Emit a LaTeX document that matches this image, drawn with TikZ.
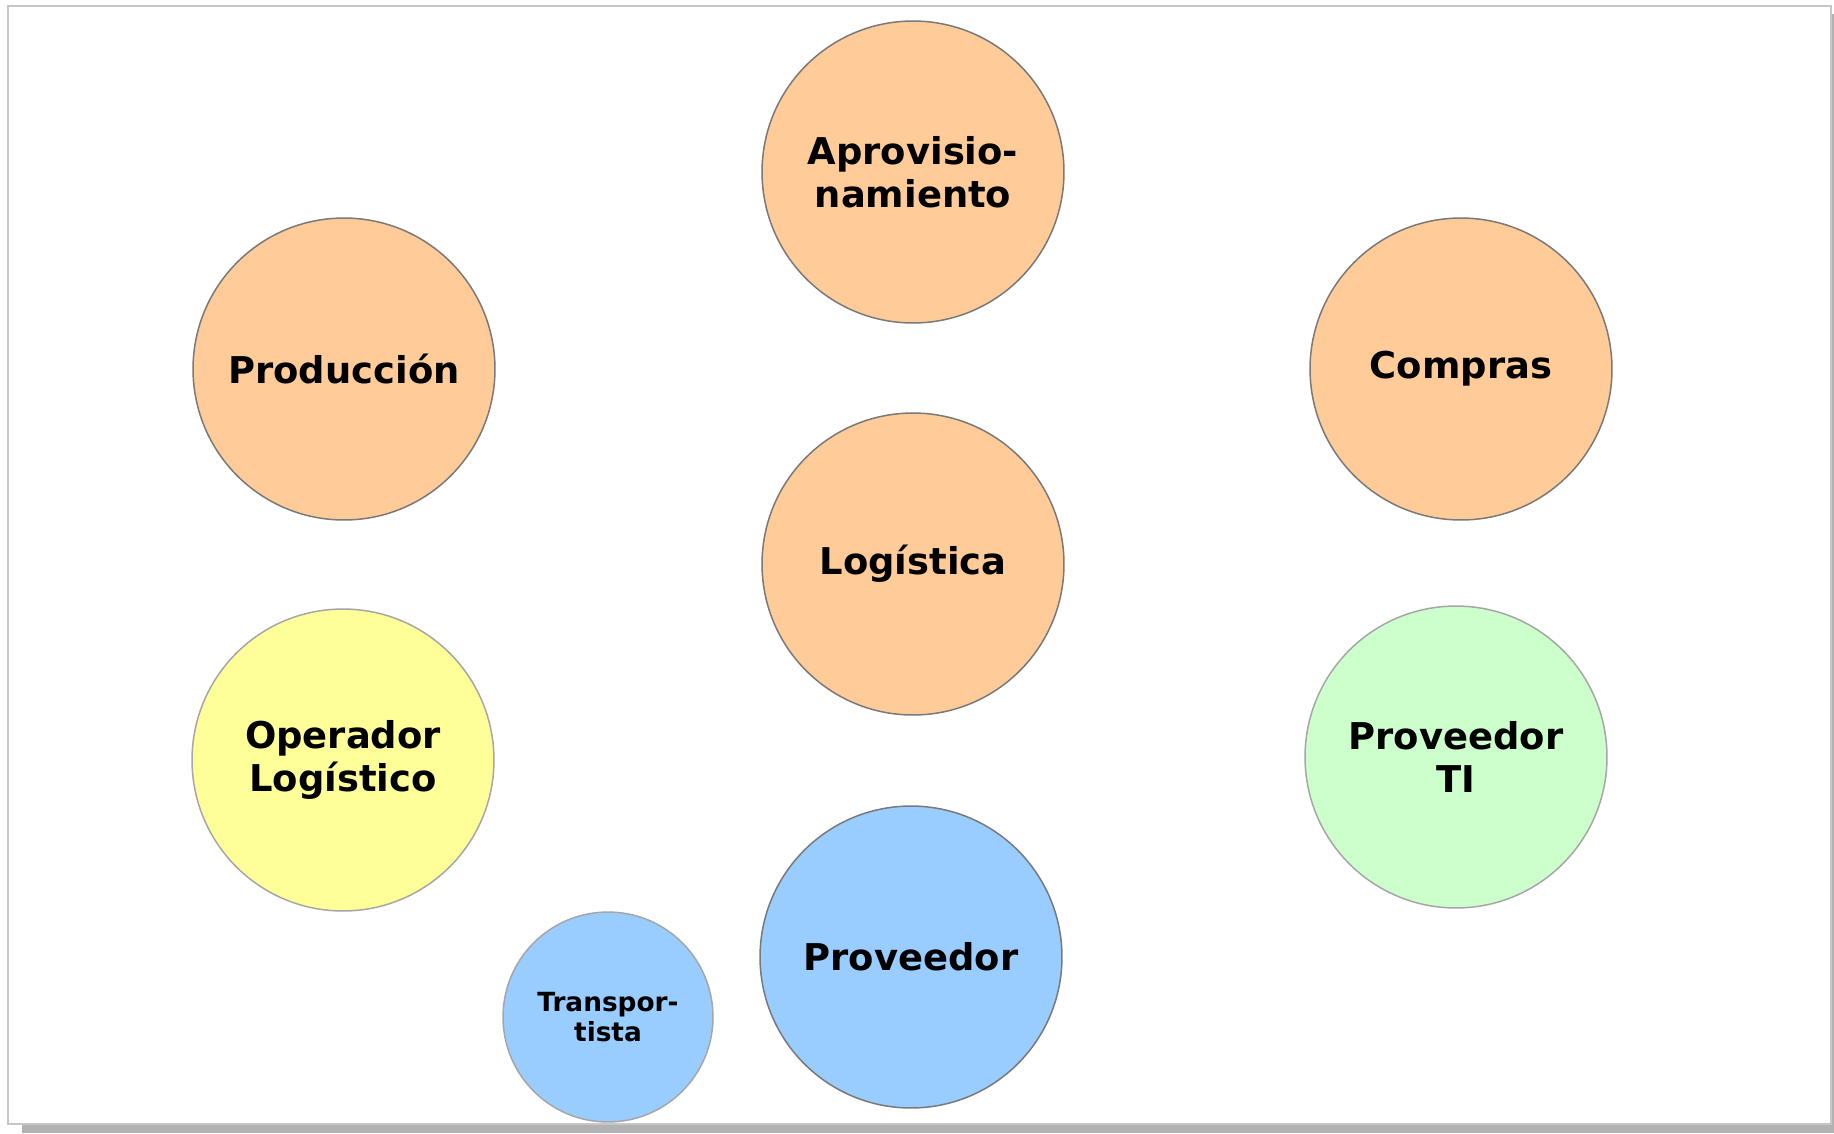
\documentclass[tikz,border=0pt]{standalone}
\usepackage{fontspec}
\setmainfont{DejaVu Sans}
\usepackage{tikz}

\definecolor{naranja}{HTML}{FFCC99}
\definecolor{amarillo}{HTML}{FFFF99}
\definecolor{verde}{HTML}{CCFFCC}
\definecolor{azul}{HTML}{99CCFF}

\tikzset{
  bubble/.style={circle, draw=gray!95!black, line width=0.85pt, inner sep=0pt,
    minimum size=6.04cm, align=center, font=\fontsize{21}{24.5}\selectfont\bfseries},
  softbubble/.style={bubble, draw=gray!70}
}

\begin{document}
\begin{tikzpicture}[x=0.02cm, y=-0.02cm]

\useasboundingbox (0,0) rectangle (1834,1133);
\fill[gray!60] (22,14) rectangle (1834,1133);
\draw[fill=white, draw=gray!45, line width=1.2pt] (8,6) rectangle (1831,1124);

\node[bubble, fill=naranja] (aprov) at (913,172) {Aprovisio-\\namiento};
\node[bubble, fill=naranja] (produccion) at (344,369) {Producción};
\node[bubble, fill=naranja] (compras) at (1461,369) {Compras};
\node[bubble, fill=naranja] (logistica) at (913,564) {Logística};

\node[softbubble, fill=amarillo] (operador) at (343,760) {Operador\\Logístico};
\node[softbubble, fill=verde] (proveedorti) at (1456,757) {Proveedor\\TI};
\node[bubble, fill=azul] (proveedor) at (911,957) {Proveedor};
\node[softbubble, fill=azul, minimum size=4.2cm,
  font=\fontsize{15}{17}\selectfont\bfseries] (transportista) at (608,1017) {Transpor-\\tista};

\end{tikzpicture}
\end{document}
